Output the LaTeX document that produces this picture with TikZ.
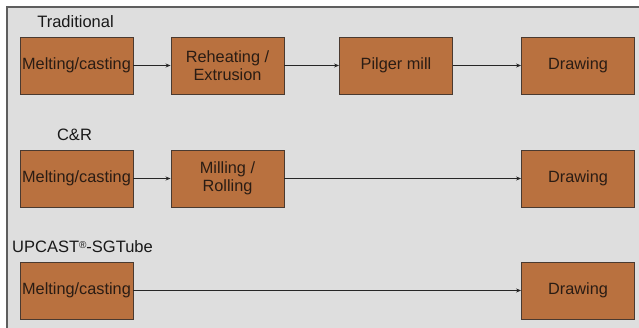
\documentclass[tikz,border=0pt]{standalone}
\usepackage{fontspec}
\setmainfont{Liberation Sans}
\usetikzlibrary{arrows.meta}
\definecolor{bg}{HTML}{DEDEDE}
\definecolor{frame}{HTML}{5E5E5E}
\definecolor{boxfill}{HTML}{B9713F}
\definecolor{boxline}{HTML}{4A3A30}
\definecolor{txt}{HTML}{2A1C14}
\begin{document}
\begin{tikzpicture}[x=1pt,y=-1pt,
  stepbox/.style={draw=boxline, line width=0.9pt, fill=boxfill, minimum width=113pt, minimum height=57pt, inner sep=0pt, align=center, text=txt, font=\fontsize{16.3}{18}\selectfont},
  flow/.style={draw=black!85, line width=0.7pt, -{Stealth[length=5pt,width=4pt]}},
  caption/.style={font=\fontsize{16.5}{19}\selectfont, text=black!90, inner sep=0pt}]
\useasboundingbox (0,0) rectangle (639,328);
\fill[white] (0,0) rectangle (639,328);
\fill[bg] (7,7) rectangle (639,328);
\draw[frame, line width=1.8pt] (7,328) -- (7,7) -- (639,7);
% row 1
\node[caption] (t1) at (75.5,22) {Traditional};
\node[stepbox] (a1) at (76.5,65.5) {Melting/casting};
\node[stepbox] (a2) at (227.5,65.5) {Reheating /\\Extrusion};
\node[stepbox] (a3) at (396,65.5) {Pilger mill};
\node[stepbox] (a4) at (578,65.5) {Drawing};
\draw[flow] (a1) -- (a2);
\draw[flow] (a2) -- (a3);
\draw[flow] (a3) -- (a4);
% row 2
\node[caption] (t2) at (74.5,135) {C\&R};
\node[stepbox] (b1) at (76.5,178.5) {Melting/casting};
\node[stepbox] (b2) at (227.5,178.5) {Milling /\\Rolling};
\node[stepbox] (b4) at (578,178.5) {Drawing};
\draw[flow] (b1) -- (b2);
\draw[flow] (b2) -- (b4);
% row 3
\node[caption, anchor=west] (t3) at (12,247) {UPCAST{\fontsize{10}{10}\selectfont\raisebox{4pt}{\textregistered}}-SGTube};
\node[stepbox] (c1) at (76.5,290.5) {Melting/casting};
\node[stepbox] (c4) at (578,290.5) {Drawing};
\draw[flow] (c1) -- (c4);
\end{tikzpicture}
\end{document}
